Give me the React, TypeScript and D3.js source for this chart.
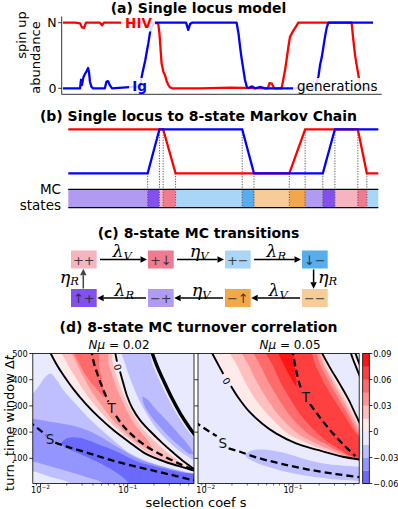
import React from "react";
import * as d3 from "d3";

type P = [number, number];

const SANS = "'DejaVu Sans', sans-serif";
const SERIF = "'DejaVu Serif', serif";

// ---------------- Panel (a): single locus trajectories ----------------
const hivGen = [0,39,55,61,68,74,119,126,132,184,290,307,311,315,318,324,329,335,340,345,352,442,539,661,666,674,681,705,710,716,721,727,732,743,754,759,931,936,942,947,953,958,965,1000];
const hivAbund = [1,1,0.99,0.93,0.92,1,1,0.96,1,1,1,0.99,0.84,0.58,0.38,0.25,0.2,0.1,0.05,0.015,0,0,0.01,0,0.08,0.07,0,0,0.12,0.27,0.43,0.63,0.78,0.88,0.96,1,1,0.76,0.51,0.36,0.2,0.05,0,0];
const igGen = [0,55,58,61,66,71,76,81,84,87,92,97,135,140,145,152,158,248,257,265,275,281,286,294,397,404,410,416,560,566,571,576,582,587,593,597,610,619,635,652,813,824,829,835,840,845,851,856,1000];
const igAbund = [0,0,0.13,0.05,0.17,0.22,0.26,0.31,0.24,0.1,0.02,0,0,0.1,0.11,0.04,0,0.03,0.25,0.42,0.68,0.86,0.93,1,1,0.89,0.98,1,1,0.84,0.64,0.46,0.28,0.13,0.02,0,0.03,0,0.02,0,0,0.18,0.35,0.48,0.63,0.78,0.93,1,1];
const abundTicks = [0, 1];
const abundTickLabels = ["0", "N"];

// ---------------- Panel (b): idealised trajectories and MC states ----------------
const hivTimesB = [0,306,346,713,764,934,963,1000];
const hivLevelsB = [1,1,0,0,1,1,0,0];
const igTimesB = [0,256,294,561,599,821,860,1000];
const igLevelsB = [0,0,1,1,0,0,1,1];
const stateBounds = [0,256,294,306,346,561,599,713,764,821,860,934,963,1000];
const stateSeq = ["−+","↑+","++","+↓","+−","↓−","−−","−↑","−+","↑+","++","+↓","+−"];

// ---------------- Panel (c): 8-state chain ----------------
const stateNames = ["++","+↓","+−","↓−","−−","−↑","−+","↑+"];
const stateColors = ["#f6b3c0","#f07a90","#a9d5f7","#57aeef","#f7cc98","#f0a84a","#b09af2","#8150ee"];
const topRow = ["++","+↓","+−","↓−"];
const bottomRow = ["↑+","−+","−↑","−−"];
const topRates: [string, string][] = [["λ","V"],["η","V"],["λ","R"]];
const bottomRates: [string, string][] = [["λ","R"],["η","V"],["λ","V"]];

// ---------------- Panel (d): contour bands, points are [log10 s, Δt] ----------------
const levels = [-0.06,-0.045,-0.03,-0.015,0,0.015,0.03,0.045,0.06,0.075,0.09];
const cbTicks = [-0.06,-0.03,0,0.03,0.06,0.09];
const dtTicks = [100,200,300,400,500];
const sMajorTicks = [0.01, 0.1];
const sMajorExp = ["−2", "−1"];

// Nμ = 0.02
const zeroA_02: P[] = [[-1.922,526],[-1.822,462],[-1.727,412],[-1.616,361],[-1.486,310],[-1.337,259],[-1.165,208],[-0.962,157],[-0.802,119],[-0.572,87],[-0.324,62],[-0.209,50],[-0.152,45]];
const zeroB_02: P[] = [[-1.157,526],[-1.123,469],[-1.088,431],[-1.050,386],[-1.004,335],[-0.947,291],[-0.859,246],[-0.756,208],[-0.599,157],[-0.469,119],[-0.354,87],[-0.247,61],[-0.209,50],[-0.152,45]];
const pos1L_02: P[] = [[-1.769,526],[-1.692,462],[-1.604,412],[-1.509,361],[-1.394,310],[-1.260,259],[-1.107,208],[-0.916,157],[-0.763,119],[-0.546,87],[-0.331,66]];
const pos1R_02: P[] = [[-1.203,526],[-1.172,462],[-1.127,412],[-1.069,361],[-1.004,310],[-0.916,259],[-0.813,208],[-0.660,157],[-0.534,119],[-0.419,90],[-0.331,66]];
const pos2L_02: P[] = [[-1.643,526],[-1.585,462],[-1.509,412],[-1.425,361],[-1.318,310],[-1.203,259],[-1.058,208],[-0.890,160],[-0.714,129]];
const pos2R_02: P[] = [[-1.249,526],[-1.218,462],[-1.172,412],[-1.119,361],[-1.050,310],[-0.974,259],[-0.870,208],[-0.763,164],[-0.714,129]];
const pos3_02: P[] = [[-1.631,526],[-1.555,462],[-1.471,412],[-1.364,367],[-1.272,335],[-1.287,386],[-1.325,443],[-1.356,526]];
const neg1_02: P[] = [[-2.159,323],[-2.120,335],[-2.025,373],[-1.948,409],[-1.883,424],[-1.815,399],[-1.738,361],[-1.604,310],[-1.463,259],[-1.299,208],[-1.119,157],[-0.974,119],[-0.763,87],[-0.515,62],[-0.209,40],[-0.133,33],[-0.133,-21],[-1.624,-21],[-1.662,5],[-1.891,30],[-2.120,53],[-2.159,53]];
const neg2_02: P[] = [[-2.159,253],[-2.120,253],[-1.891,240],[-1.662,227],[-1.471,208],[-1.279,176],[-1.088,138],[-0.859,96],[-0.591,68],[-0.324,45],[-0.133,33],[-0.133,-21],[-1.250,-21],[-1.300,8],[-1.471,28],[-1.662,48],[-1.891,70],[-2.120,90],[-2.159,90]];
const neg3_02: P[] = [[-1.757,157],[-1.719,173],[-1.624,180],[-1.490,173],[-1.318,151],[-1.127,126],[-0.897,89],[-0.668,68],[-0.438,50],[-0.190,38],[-0.133,35],[-0.133,-21],[-0.955,-21],[-0.993,7],[-1.127,45],[-1.279,75],[-1.471,106],[-1.624,128],[-1.719,142]];
const neg1RL_02: P[] = [[-1.073,526],[-1.031,462],[-0.981,412],[-0.920,361],[-0.851,310],[-0.763,259],[-0.656,208],[-0.507,157],[-0.370,119],[-0.247,94],[-0.133,81]];
const neg1RR_02: P[] = [[-0.782,526],[-0.714,456],[-0.630,393],[-0.538,329],[-0.438,269],[-0.339,218],[-0.228,173],[-0.133,145]];
const neg2R_02: P[] = [[-0.828,335],[-0.775,325],[-0.687,291],[-0.553,244],[-0.419,195],[-0.305,151],[-0.247,117],[-0.293,117],[-0.400,145],[-0.534,185],[-0.649,227],[-0.752,269],[-0.813,304]];
const zeroC_02: P[] = [[-0.744,526],[-0.668,456],[-0.584,393],[-0.492,329],[-0.393,269],[-0.293,218],[-0.209,180],[-0.133,147]];
const tA_02: P[] = [[-1.421,520],[-1.386,462],[-1.337,412],[-1.279,361],[-1.222,316]];
const tB_02: P[] = [[-1.134,262],[-1.050,223],[-0.935,185],[-0.782,145],[-0.591,109],[-0.400,78],[-0.228,53]];
const sA_02: P[] = [[-2.140,242],[-2.006,208],[-1.937,189]];
const sB_02: P[] = [[-1.830,160],[-1.700,145],[-1.509,126],[-1.318,106],[-1.127,87],[-0.935,71],[-0.744,56],[-0.515,38],[-0.247,17],[-0.190,15]];

// Nμ = 0.05
const zeroA_05: P[] = [[-1.966,526],[-1.844,450],[-1.798,422],[-1.748,396],[-1.710,376],[-1.633,335],[-1.500,278],[-1.347,231],[-1.194,195],[-0.964,157],[-0.716,132],[-0.429,106],[-0.200,94],[-0.123,90]];
const zeroB_05: P[] = [[-0.704,526],[-0.582,450],[-0.467,386],[-0.360,323],[-0.269,259],[-0.200,214],[-0.123,183]];
const pos1L_05: P[] = [[-1.729,526],[-1.633,450],[-1.538,386],[-1.423,323],[-1.263,259],[-1.060,195],[-0.831,157],[-0.640,132],[-0.399,106],[-0.181,94],[-0.123,91]];
const pos1R_05: P[] = [[-0.731,526],[-0.613,450],[-0.506,386],[-0.399,323],[-0.295,259],[-0.200,202],[-0.123,172]];
const pos2L_05: P[] = [[-1.588,526],[-1.500,450],[-1.404,386],[-1.289,323],[-1.148,259],[-0.945,195],[-0.735,157],[-0.563,132],[-0.372,106],[-0.181,95],[-0.123,92]];
const pos2R_05: P[] = [[-0.758,526],[-0.640,450],[-0.536,386],[-0.429,323],[-0.322,259],[-0.211,193],[-0.123,164]];
const pos3L_05: P[] = [[-1.454,526],[-1.366,450],[-1.270,386],[-1.156,323],[-1.022,259],[-0.831,195],[-0.640,157],[-0.498,132],[-0.353,109],[-0.181,96],[-0.123,94]];
const pos3R_05: P[] = [[-0.789,526],[-0.678,450],[-0.575,386],[-0.467,323],[-0.353,259],[-0.238,189],[-0.123,155]];
const pos4L_05: P[] = [[-1.320,526],[-1.224,450],[-1.136,386],[-1.022,323],[-0.896,259],[-0.716,195],[-0.575,157],[-0.448,132],[-0.334,109],[-0.181,97],[-0.123,95]];
const pos4R_05: P[] = [[-0.834,526],[-0.735,450],[-0.640,386],[-0.525,323],[-0.399,259],[-0.276,195],[-0.181,164],[-0.123,145]];
const pos5_05: P[] = [[-1.182,526],[-1.110,462],[-1.033,412],[-0.964,376],[-0.972,424],[-0.991,475],[-0.980,526]];
const zeroC_05: P[] = [[-0.360,526],[-0.315,482],[-0.269,443],[-0.231,412],[-0.181,373]];
const zeroD_05: P[] = [[-0.307,526],[-0.269,488],[-0.231,456],[-0.181,418]];
const neg1_05: P[] = [[-1.545,113],[-1.480,129],[-1.347,134],[-1.117,122],[-0.850,96],[-0.582,77],[-0.238,68],[-0.123,66],[-0.123,-2],[-0.238,12],[-0.582,22],[-0.964,40],[-1.270,66],[-1.461,90],[-1.530,104]];
const tA_05: P[] = [[-1.010,520],[-0.964,437],[-0.926,386],[-0.903,361]];
const tB_05: P[] = [[-0.804,307],[-0.697,259],[-0.582,211],[-0.429,155],[-0.284,109]];
const sA_05: P[] = [[-2.130,240],[-1.958,202],[-1.874,185]];
const sB_05: P[] = [[-1.737,138],[-1.614,126],[-1.423,104],[-1.156,81],[-0.850,59],[-0.506,40],[-0.238,28],[-0.181,25]];

// ---------------- helpers ----------------
const ring = (a: P[], b: P[] = []): P[] => {
  const seen = new Set<string>();
  const out: P[] = [];
  [...a, ...b.slice().reverse()].forEach((p) => {
    const k = p[0] + "," + p[1];
    if (!seen.has(k)) { seen.add(k); out.push(p); }
  });
  return out;
};

const bandColor = (k: number) => {
  const mid = (levels[k] + levels[k + 1]) / 2;
  return mid < 0
    ? d3.interpolateRgb("#ffffff", "#0000ff")(-mid / 0.09)
    : d3.interpolateRgb("#ffffff", "#ff0000")(mid / 0.09);
};

function Arrow({ x1, y1, x2, y2, color = "#000" }: { x1: number; y1: number; x2: number; y2: number; color?: string }) {
  const a = Math.atan2(y2 - y1, x2 - x1);
  const L = 6.5, w = 3.2;
  const bx = x2 - L * Math.cos(a), by = y2 - L * Math.sin(a);
  const px = -Math.sin(a) * w, py = Math.cos(a) * w;
  return (
    <g>
      <line x1={x1} y1={y1} x2={bx} y2={by} stroke={color} strokeWidth={1.5} />
      <path d={`M${x2},${y2}L${bx + px},${by + py}L${bx - px},${by - py}Z`} fill={color} />
    </g>
  );
}

function Rate({ x, y, sym, sub, anchor = "middle" }: { x: number; y: number; sym: string; sub: string; anchor?: string }) {
  return (
    <text x={x} y={y} textAnchor={anchor as any} fontFamily={SERIF} fontStyle="italic" fontSize={17.5} fill="#000">
      {sym}
      <tspan fontSize={11.5} dy={2.8}>{sub}</tspan>
    </text>
  );
}

type PanelCfg = {
  id: string;
  x0: number;
  x1: number;
  bands: { pts: P[]; k: number }[];
  zeroLines: P[][];
  thickLines: P[][];
  dashed: P[][];
  labels: { p: P; t: string }[];
  zeroLabel: { p: P; rot: number };
  title: string;
  titleX: number;
  yLabels: boolean;
};

const yTop = 353.5, yBot = 483.5;
const yD = d3.scaleLinear().domain([4, 500]).range([yBot, yTop]);
const sDomain = [Math.pow(10, -2.0883), Math.pow(10, -0.2397)];

function ContourPanel({ cfg }: { cfg: PanelCfg }) {
  const xs = d3.scaleLog().domain(sDomain).range([cfg.x0, cfg.x1]);
  const px = (p: P) => xs(Math.pow(10, p[0]));
  const py = (p: P) => yD(p[1]);
  const closed = d3.line<P>().x(px).y(py).curve(d3.curveCatmullRomClosed.alpha(0.5));
  const open = d3.line<P>().x(px).y(py).curve(d3.curveCatmullRom.alpha(0.5));
  const minor: number[] = [];
  [-3, -2, -1].forEach((e) => {
    for (let k = 2; k <= 9; k++) {
      const v = k * Math.pow(10, e);
      if (v > sDomain[0] && v < sDomain[1]) minor.push(v);
    }
  });
  const w = cfg.x1 - cfg.x0;
  return (
    <g>
      <defs>
        <clipPath id={"clip" + cfg.id}>
          <rect x={cfg.x0} y={yTop} width={w} height={yBot - yTop} />
        </clipPath>
      </defs>
      <g clipPath={`url(#clip${cfg.id})`}>
        <rect x={cfg.x0} y={yTop} width={w} height={yBot - yTop} fill={bandColor(3)} />
        {cfg.bands.map((b, i) => (
          <path key={i} d={closed(b.pts) || ""} fill={bandColor(b.k)} stroke="none" />
        ))}
        {cfg.zeroLines.map((l, i) => (
          <path key={i} d={open(l) || ""} fill="none" stroke="#000" strokeWidth={1.9} />
        ))}
        {cfg.thickLines.map((l, i) => (
          <path key={i} d={open(l) || ""} fill="none" stroke="#000" strokeWidth={3.4} />
        ))}
        {cfg.dashed.map((l, i) => (
          <path key={i} d={open(l) || ""} fill="none" stroke="#000" strokeWidth={2.3} strokeDasharray="7,4" />
        ))}
        {cfg.labels.map((l, i) => (
          <text key={i} x={px(l.p)} y={py(l.p)} textAnchor="middle" dominantBaseline="central" fontFamily={SANS} fontSize={13.5} fill="#111">
            {l.t}
          </text>
        ))}
        <text
          transform={`translate(${px(cfg.zeroLabel.p)},${py(cfg.zeroLabel.p)}) rotate(${cfg.zeroLabel.rot})`}
          textAnchor="middle"
          dominantBaseline="central"
          fontFamily={SANS}
          fontSize={9.5}
          fill="#000"
        >
          0
        </text>
      </g>
      <rect x={cfg.x0} y={yTop} width={w} height={yBot - yTop} fill="none" stroke="#000" strokeWidth={0.8} />
      {dtTicks.map((t) => (
        <g key={t}>
          <line x1={cfg.x0 - 3.5} x2={cfg.x0} y1={yD(t)} y2={yD(t)} stroke="#000" strokeWidth={0.8} />
          {cfg.yLabels && (
            <text x={cfg.x0 - 5} y={yD(t)} textAnchor="end" dominantBaseline="central" fontFamily={SANS} fontSize={8.2}>
              {t}
            </text>
          )}
        </g>
      ))}
      {minor.map((v) => (
        <line key={v} x1={xs(v)} x2={xs(v)} y1={yBot} y2={yBot + 2} stroke="#000" strokeWidth={0.6} />
      ))}
      {sMajorTicks.map((v, i) => (
        <g key={v}>
          <line x1={xs(v)} x2={xs(v)} y1={yBot} y2={yBot + 3.5} stroke="#000" strokeWidth={0.8} />
          <text x={xs(v)} y={492.5} textAnchor="middle" fontFamily={SANS} fontSize={8.2}>
            10
            <tspan fontSize={5.8} dy={-3.4}>{sMajorExp[i]}</tspan>
          </text>
        </g>
      ))}
      <text x={cfg.titleX} y={349} textAnchor="middle" fontFamily={SANS} fontSize={12}>
        <tspan fontStyle="italic">Nμ</tspan> =  {cfg.title}
      </text>
    </g>
  );
}

export default function App() {
  // panel (a)
  const xa = d3.scaleLinear().domain([0, 1000]).range([63, 373]);
  const ya = d3.scaleLinear().domain([0, 1]).range([88.3, 22.7]);
  const lineA = d3.line<P>().x((d) => xa(d[0])).y((d) => ya(d[1]));
  const hivPts: P[] = hivGen.map((g, i) => [g, hivAbund[i]]);
  const igPts: P[] = igGen.map((g, i) => [g, igAbund[i]]);

  // panel (b)
  const xb = d3.scaleLinear().domain([0, 1000]).range([68.3, 378.3]);
  const yb = d3.scaleLinear().domain([0, 1]).range([173.3, 129.3]);
  const lineB = d3.line<P>().x((d) => xb(d[0])).y((d) => yb(d[1]));
  const hivB: P[] = hivTimesB.map((t, i) => [t, hivLevelsB[i]]);
  const igB: P[] = igTimesB.map((t, i) => [t, igLevelsB[i]]);
  const kinks: P[] = [];
  hivTimesB.forEach((t, i) => { if (i > 0 && i < hivTimesB.length - 1) kinks.push([t, hivLevelsB[i]]); });
  igTimesB.forEach((t, i) => { if (i > 0 && i < igTimesB.length - 1) kinks.push([t, igLevelsB[i]]); });
  const colorOf = (s: string) => stateColors[stateNames.indexOf(s)];
  const barTop = 189.3, barBot = 207.7;

  // panel (c)
  const boxW = 25.7, boxH = 18;
  const boxX = (i: number) => 71 + 77 * i;
  const row1Y = 250.5, row2Y = 289;

  // panel (d)
  const cfg02: PanelCfg = {
    id: "L",
    x0: 32.8,
    x1: 194,
    bands: [
      { pts: ring(neg1_02), k: 2 },
      { pts: ring(neg1RL_02, neg1RR_02), k: 2 },
      { pts: ring(neg2_02), k: 1 },
      { pts: ring(neg2R_02), k: 1 },
      { pts: ring(neg3_02), k: 0 },
      { pts: ring(zeroA_02, zeroB_02), k: 4 },
      { pts: ring(pos1L_02, pos1R_02), k: 5 },
      { pts: ring(pos2L_02, pos2R_02), k: 6 },
      { pts: ring(pos3_02), k: 7 },
    ],
    zeroLines: [zeroA_02, zeroB_02.slice(0, 2), zeroB_02.slice(2)],
    thickLines: [zeroC_02],
    dashed: [tA_02, tB_02, sA_02, sB_02],
    labels: [
      { p: [-1.184, 292], t: "T" },
      { p: [-1.891, 173], t: "S" },
    ],
    zeroLabel: { p: [-1.115, 448], rot: 73.7 },
    title: "0.02",
    titleX: 119,
    yLabels: true,
  };
  const cfg05: PanelCfg = {
    id: "R",
    x0: 198,
    x1: 359.2,
    bands: [
      { pts: ring(neg1_05), k: 2 },
      { pts: ring(zeroA_05, zeroB_05), k: 4 },
      { pts: ring(zeroC_05, zeroD_05), k: 4 },
      { pts: ring(pos1L_05, pos1R_05), k: 5 },
      { pts: ring(pos2L_05, pos2R_05), k: 6 },
      { pts: ring(pos3L_05, pos3R_05), k: 7 },
      { pts: ring(pos4L_05, pos4R_05), k: 8 },
      { pts: ring(pos5_05), k: 9 },
    ],
    zeroLines: [zeroA_05.slice(0, 3), zeroA_05.slice(4), zeroB_05, zeroC_05, zeroD_05],
    thickLines: [],
    dashed: [tA_05, tB_05, sA_05, sB_05],
    labels: [
      { p: [-0.85, 333], t: "T" },
      { p: [-1.805, 157], t: "S" },
    ],
    zeroLabel: { p: [-1.76, 395], rot: 58.6 },
    title: "0.05",
    titleX: 290,
    yLabels: false,
  };
  const cb = d3.scaleLinear().domain([-0.06, 0.09]).range([yBot, yTop]);
  const cbX = 362.7, cbW = 6.6;

  return (
    <svg width={398} height={509} style={{ position: "absolute", left: 0, top: 0, display: "block" }} fontFamily={SANS}>
      <rect x={0} y={0} width={398} height={509} fill="#fff" />

      {/* ---------- (a) ---------- */}
      <text x={198.5} y={12.5} textAnchor="middle" fontWeight="bold" fontSize={14}>(a) Single locus model</text>
      <path d={lineA(hivPts) || ""} fill="none" stroke="#ff0000" strokeWidth={2.3} strokeLinejoin="round" />
      <path d={lineA(igPts) || ""} fill="none" stroke="#0000ff" strokeWidth={2.3} strokeLinejoin="round" />
      <rect x={121} y={14.5} width={34} height={17} fill="#fff" opacity={0.85} />
      <text x={138.5} y={22.7} textAnchor="middle" dominantBaseline="central" fontWeight="bold" fontSize={13.5} fill="#ff0000">HIV</text>
      <rect x={129} y={78} width={21} height={16} fill="#fff" opacity={0.85} />
      <text x={139.5} y={86} textAnchor="middle" dominantBaseline="central" fontWeight="bold" fontSize={13.5} fill="#0000ff">Ig</text>
      <rect x={293} y={78} width={88} height={15.5} fill="#fff" opacity={0.85} />
      <text x={297} y={86} dominantBaseline="central" fontSize={13.5}>generations</text>
      <line x1={61.7} x2={61.7} y1={16.5} y2={94.3} stroke="#000" strokeWidth={0.8} />
      <line x1={61.7} x2={381.7} y1={94.3} y2={94.3} stroke="#000" strokeWidth={0.8} />
      {abundTicks.map((t, i) => (
        <g key={t}>
          <line x1={58.2} x2={61.7} y1={ya(t)} y2={ya(t)} stroke="#000" strokeWidth={0.8} />
          <text x={56.5} y={ya(t)} textAnchor="end" dominantBaseline="central" fontSize={12.5}>{abundTickLabels[i]}</text>
        </g>
      ))}
      <text transform="translate(21.5,35) rotate(-90)" textAnchor="middle" dominantBaseline="central" fontSize={13}>spin up</text>
      <text transform="translate(35,57.5) rotate(-90)" textAnchor="middle" dominantBaseline="central" fontSize={13}>abundance</text>

      {/* ---------- (b) ---------- */}
      <text x={198.5} y={121} textAnchor="middle" fontWeight="bold" fontSize={14}>(b) Single locus to 8-state Markov Chain</text>
      {stateSeq.map((s, i) => (
        <rect key={i} x={xb(stateBounds[i])} y={barTop} width={xb(stateBounds[i + 1]) - xb(stateBounds[i])} height={barBot - barTop} fill={colorOf(s)} />
      ))}
      {kinks.map((k, i) => (
        <line key={i} x1={xb(k[0])} x2={xb(k[0])} y1={yb(k[1])} y2={barBot} stroke="#444" strokeWidth={0.9} strokeDasharray="1.2,1.4" />
      ))}
      <line x1={xb(0)} x2={xb(1000)} y1={barTop} y2={barTop} stroke="#000" strokeWidth={1.2} />
      <line x1={xb(0)} x2={xb(1000)} y1={barBot} y2={barBot} stroke="#000" strokeWidth={1.2} />
      <path d={lineB(hivB) || ""} fill="none" stroke="#ff0000" strokeWidth={2.3} />
      <path d={lineB(igB) || ""} fill="none" stroke="#0000ff" strokeWidth={2.3} />
      <text x={61} y={189} textAnchor="end" dominantBaseline="central" fontSize={13.5}>MC</text>
      <text x={61} y={204.5} textAnchor="end" dominantBaseline="central" fontSize={13.5}>states</text>

      {/* ---------- (c) ---------- */}
      <text x={198.5} y={237.5} textAnchor="middle" fontWeight="bold" fontSize={14}>(c) 8-state MC transitions</text>
      {topRow.map((s, i) => (
        <g key={"t" + i}>
          <rect x={boxX(i)} y={row1Y} width={boxW} height={boxH} fill={colorOf(s)} />
          <text x={boxX(i) + boxW / 2} y={row1Y + boxH / 2 + 0.5} textAnchor="middle" dominantBaseline="central" fontSize={13} fill="#222" fillOpacity={0.85}>{s}</text>
        </g>
      ))}
      {bottomRow.map((s, i) => (
        <g key={"b" + i}>
          <rect x={boxX(i)} y={row2Y} width={boxW} height={boxH} fill={colorOf(s)} />
          <text x={boxX(i) + boxW / 2} y={row2Y + boxH / 2 + 0.5} textAnchor="middle" dominantBaseline="central" fontSize={13} fill="#222" fillOpacity={0.85}>{s}</text>
        </g>
      ))}
      {topRates.map((r, i) => (
        <g key={"ta" + i}>
          <Arrow x1={boxX(i) + boxW + 3.3} y1={row1Y + boxH / 2} x2={boxX(i + 1) - 1} y2={row1Y + boxH / 2} />
          <Rate x={boxX(i) + boxW + 25.5} y={257} sym={r[0]} sub={r[1]} />
        </g>
      ))}
      {bottomRates.map((r, i) => (
        <g key={"ba" + i}>
          <Arrow x1={boxX(i + 1) - 2} y1={row2Y + boxH / 2} x2={boxX(i) + boxW + 0.5} y2={row2Y + boxH / 2} />
          <Rate x={boxX(i) + boxW + 27.5} y={296} sym={r[0]} sub={r[1]} />
        </g>
      ))}
      <Arrow x1={boxX(3) + 11.6} y1={row1Y + boxH + 1} x2={boxX(3) + 11.6} y2={row2Y - 0.3} />
      <Rate x={318} y={282.5} sym="η" sub="R" anchor="start" />
      <Arrow x1={boxX(0) + 12.3} y1={row2Y - 0.5} x2={boxX(0) + 12.3} y2={row1Y + boxH + 0.3} color="#444" />
      <Rate x={79} y={282.5} sym="η" sub="R" anchor="end" />

      {/* ---------- (d) ---------- */}
      <text x={198.5} y={332} textAnchor="middle" fontWeight="bold" fontSize={14}>(d) 8-state MC turnover correlation</text>
      <ContourPanel cfg={cfg02} />
      <ContourPanel cfg={cfg05} />
      {levels.slice(0, -1).map((lv, k) => (
        <rect key={k} x={cbX} y={cb(levels[k + 1])} width={cbW} height={cb(lv) - cb(levels[k + 1]) + 0.3} fill={bandColor(k)} />
      ))}
      <rect x={cbX} y={yTop} width={cbW} height={yBot - yTop} fill="none" stroke="#000" strokeWidth={0.8} />
      {cbTicks.map((v) => (
        <g key={v}>
          <line x1={cbX + cbW} x2={cbX + cbW + 3} y1={cb(v)} y2={cb(v)} stroke="#000" strokeWidth={0.8} />
          <text x={cbX + cbW + 4} y={cb(v)} dominantBaseline="central" fontSize={8.2}>
            {v === 0 ? "0" : (v < 0 ? "−" : "") + Math.abs(v).toFixed(2)}
          </text>
        </g>
      ))}
      <text transform="translate(9,423) rotate(-90)" textAnchor="middle" dominantBaseline="central" fontSize={13}>
        turn. time window Δ<tspan fontStyle="italic">t</tspan>
      </text>
      <text x={196} y={507} textAnchor="middle" fontSize={13}>selection coef s</text>
    </svg>
  );
}
